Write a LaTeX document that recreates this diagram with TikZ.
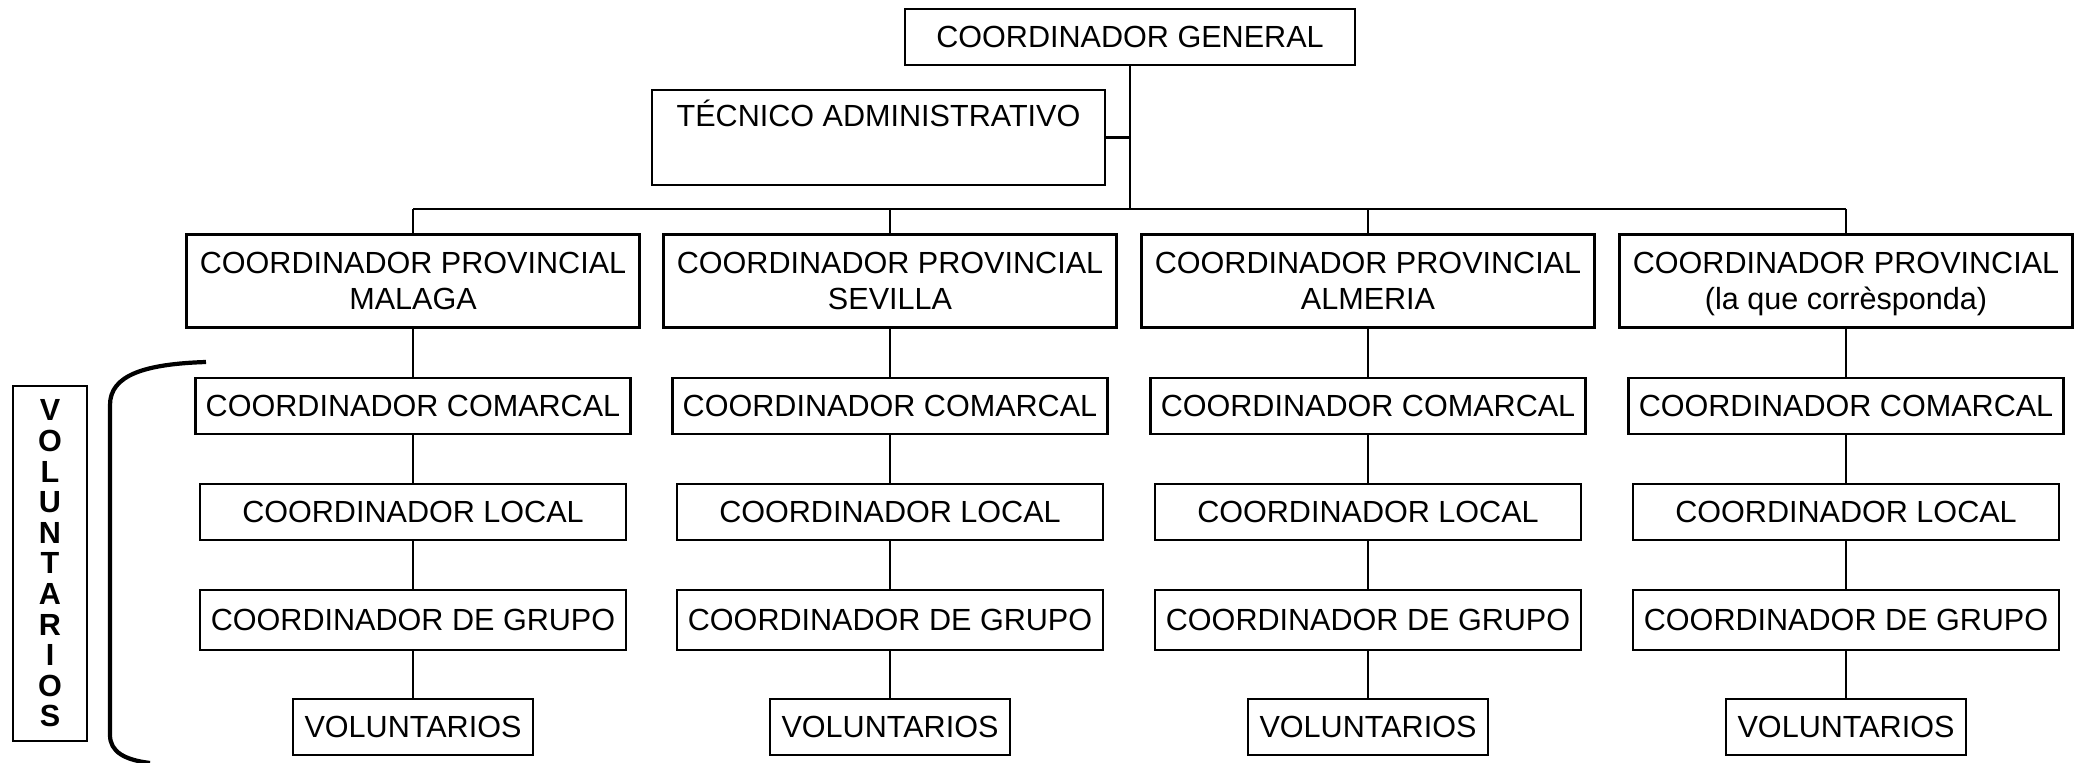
\documentclass[tikz,border=0pt]{standalone}
\usepackage{fontspec}
\setmainfont{Liberation Sans}

\tikzset{
	box/.style = {draw, thick, align = center, inner sep = 0pt, font = \fontsize{8.7}{10.4}\selectfont},
	link/.style = {semithick}
}

\begin{document}
\begin{tikzpicture}

	% The page
	
	\useasboundingbox (0, 0) rectangle (20.87, -7.63);
	
	% Top of the chart
	
	\node [box, minimum width = 4.50cm, minimum height = 0.56cm] (general) at (11.30, -0.37) {COORDINADOR GENERAL};
	\node [box, minimum width = 4.53cm, minimum height = 0.95cm] (tecnico) at (8.785, -1.375) {TÉCNICO ADMINISTRATIVO\\ \strut};
	
	\coordinate (bus) at (0, -2.09);
	
	\draw [link] (general) -- (general.south |- bus);
	\draw [link] (tecnico.east) -- (tecnico.east -| general.south);
	
	% One column for each province
	
	\foreach \n/\x/\prov in {1/4.13/MALAGA, 2/8.90/SEVILLA, 3/13.68/ALMERIA, 4/18.46/{(la que corrèsponda)}} {
	
		\node [box, minimum width = 4.53cm, minimum height = 0.93cm, text depth = 0pt] (prov\n) at (\x, -2.81) {COORDINADOR PROVINCIAL\\ \prov};
		\node [box, minimum width = 4.35cm, minimum height = 0.56cm] (comarcal\n) at (\x, -4.06) {COORDINADOR COMARCAL};
		\node [box, minimum width = 4.26cm, minimum height = 0.56cm] (local\n) at (\x, -5.12) {COORDINADOR LOCAL};
		\node [box, minimum width = 4.26cm, minimum height = 0.60cm] (grupo\n) at (\x, -6.20) {COORDINADOR DE GRUPO};
		\node [box, minimum width = 2.40cm, minimum height = 0.56cm] (vol\n) at (\x, -7.27) {VOLUNTARIOS};
		
		\draw [link] (prov\n) -- (prov\n.north |- bus);
		\draw [link] (prov\n) -- (comarcal\n);
		\draw [link] (comarcal\n) -- (local\n);
		\draw [link] (local\n) -- (grupo\n);
		\draw [link] (grupo\n) -- (vol\n);
		
	}
	
	\draw [link] (prov1.north |- bus) -- (prov4.north |- bus);
	
	% Side label and its bracket
	
	\node [box, minimum width = 0.74cm, minimum height = 3.55cm, font = \fontsize{8.7}{8.7}\selectfont\bfseries] (side) at (0.50, -5.635) {V\\O\\L\\U\\N\\T\\A\\R\\I\\O\\S};
	
	\draw [line width = 1.2pt] (2.06, -3.62) .. controls (1.45, -3.64) and (1.10, -3.75) .. (1.10, -4.05)
		-- (1.10, -7.35) .. controls (1.10, -7.52) and (1.25, -7.60) .. (1.50, -7.63);
		
\end{tikzpicture}
\end{document}
